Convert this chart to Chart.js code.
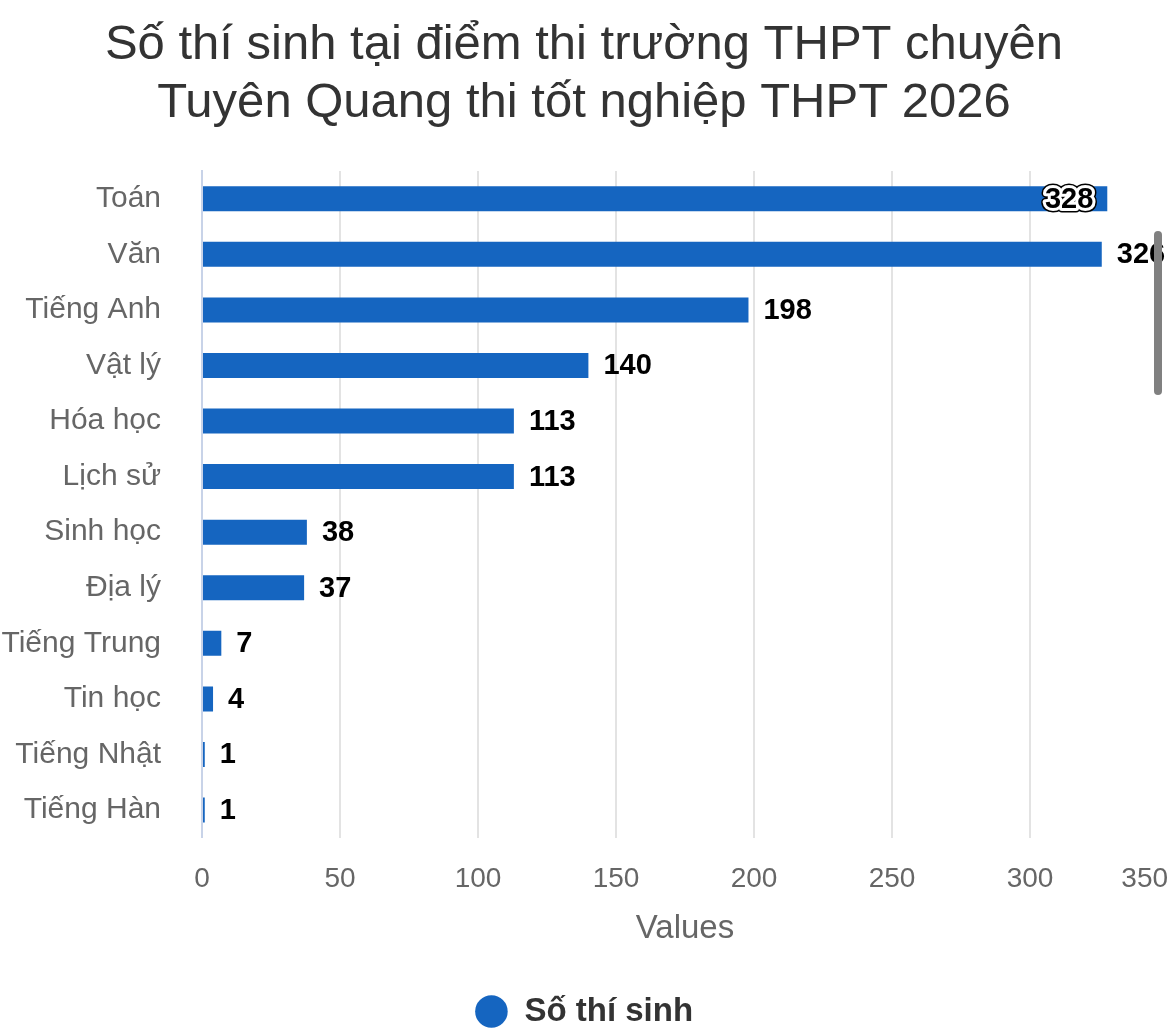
<!DOCTYPE html>
<html>
<head>
<meta charset="utf-8">
<script src="https://cdn.jsdelivr.net/npm/chart.js@4.4.1/dist/chart.umd.min.js"></script>
<style>
  html, body { margin: 0; padding: 0; background: #ffffff; overflow: hidden; }
  #wrap { position: relative; width: 1170px; height: 1033px; overflow: hidden; }
  #scrollbar { position: absolute; left: 1154px; top: 231px; width: 8px; height: 164px; border-radius: 4px; background: #808080; }
</style>
</head>
<body>
<div id="wrap">
  <canvas id="c" width="1170" height="1038"></canvas>
  <div id="scrollbar"></div>
</div>
<script>
const titleLines = ["Số thí sinh tại điểm thi trường THPT chuyên", "Tuyên Quang thi tốt nghiệp THPT 2026"];
const categories = ["Toán", "Văn", "Tiếng Anh", "Vật lý", "Hóa học", "Lịch sử", "Sinh học", "Địa lý", "Tiếng Trung", "Tin học", "Tiếng Nhật", "Tiếng Hàn"];
const seriesName = "Số thí sinh";
const seriesValues = [328, 326, 198, 140, 113, 113, 38, 37, 7, 4, 1, 1];
const xTicks = [0, 50, 100, 150, 200, 250, 300, 350];
const xAxisTitle = "Values";

const FONT = "'Liberation Sans', Arial, Helvetica, sans-serif";
const BAR = "#1565c0";

const valueLabels = {
  id: 'valueLabels',
  afterDatasetsDraw(chart) {
    const ctx = chart.ctx;
    const meta = chart.getDatasetMeta(0);
    ctx.save();
    ctx.font = "bold 29px " + FONT;
    ctx.textBaseline = 'middle';
    meta.data.forEach((bar, i) => {
      const txt = String(chart.data.datasets[0].data[i]);
      const w = ctx.measureText(txt).width;
      let x = bar.x + 15;
      if (x + w > chart.width) {
        ctx.textAlign = 'right';
        x = bar.x - 14;
        ctx.lineJoin = 'round';
        ctx.lineWidth = 9;
        ctx.strokeStyle = '#000000';
        ctx.strokeText(txt, x, bar.y + 1);
        ctx.lineWidth = 6;
        ctx.strokeStyle = '#ffffff';
        ctx.strokeText(txt, x, bar.y + 1);
        ctx.fillStyle = '#000000';
        ctx.fillText(txt, x, bar.y + 1);
      } else {
        ctx.textAlign = 'left';
        ctx.fillStyle = '#000000';
        ctx.fillText(txt, x, bar.y + 1);
      }
    });
    ctx.restore();
  }
};

new Chart(document.getElementById('c'), {
  type: 'bar',
  data: {
    labels: categories,
    datasets: [{
      label: seriesName,
      data: seriesValues,
      backgroundColor: BAR,
      borderColor: BAR,
      borderWidth: 0,
      barPercentage: 0.9,
      categoryPercentage: 0.5
    }]
  },
  options: {
    indexAxis: 'y',
    responsive: false,
    animation: false,
    devicePixelRatio: 1,
    layout: { padding: { left: 0, right: 2, top: 0, bottom: 0 } },
    plugins: {
      title: {
        display: true,
        text: titleLines,
        color: '#333333',
        font: { family: FONT, size: 49, weight: 'normal', lineHeight: 1.1837 },
        padding: { top: 16, bottom: 39 }
      },
      legend: {
        display: true,
        position: 'bottom',
        labels: {
          usePointStyle: true,
          pointStyle: 'circle',
          boxWidth: 33,
          boxHeight: 23,
          color: '#333333',
          font: { family: FONT, size: 33, weight: 'bold' },
          padding: 10
        }
      },
      tooltip: { enabled: false }
    },
    scales: {
      x: {
        type: 'linear',
        min: 0,
        max: 350,
        afterBuildTicks(scale) { scale.ticks = xTicks.map(v => ({ value: v })); },
        afterFit(scale) { scale.paddingRight = 0; scale.paddingLeft = 0; },
        grid: {
          color: (c) => (c.tick && c.tick.value === 350) ? 'rgba(0,0,0,0)' : '#e3e3e3',
          lineWidth: 2,
          drawTicks: false
        },
        border: { display: false },
        ticks: {
          color: '#666666',
          font: { family: FONT, size: 28 },
          padding: 25,
          maxRotation: 0,
          callback(v) { return v === 350 ? '350      ' : String(v); }
        },
        title: {
          display: true,
          text: xAxisTitle,
          color: '#666666',
          font: { family: FONT, size: 33 },
          padding: { top: -12, bottom: 36 }
        }
      },
      y: {
        afterFit(scale) { scale.width = 202; },
        grid: { display: false, drawTicks: false },
        border: { display: true, color: '#c8d3e8', width: 2 },
        ticks: {
          color: '#666666',
          font: { family: FONT, size: 30 },
          padding: 41
        }
      }
    }
  },
  plugins: [valueLabels]
});
</script>
</body>
</html>
